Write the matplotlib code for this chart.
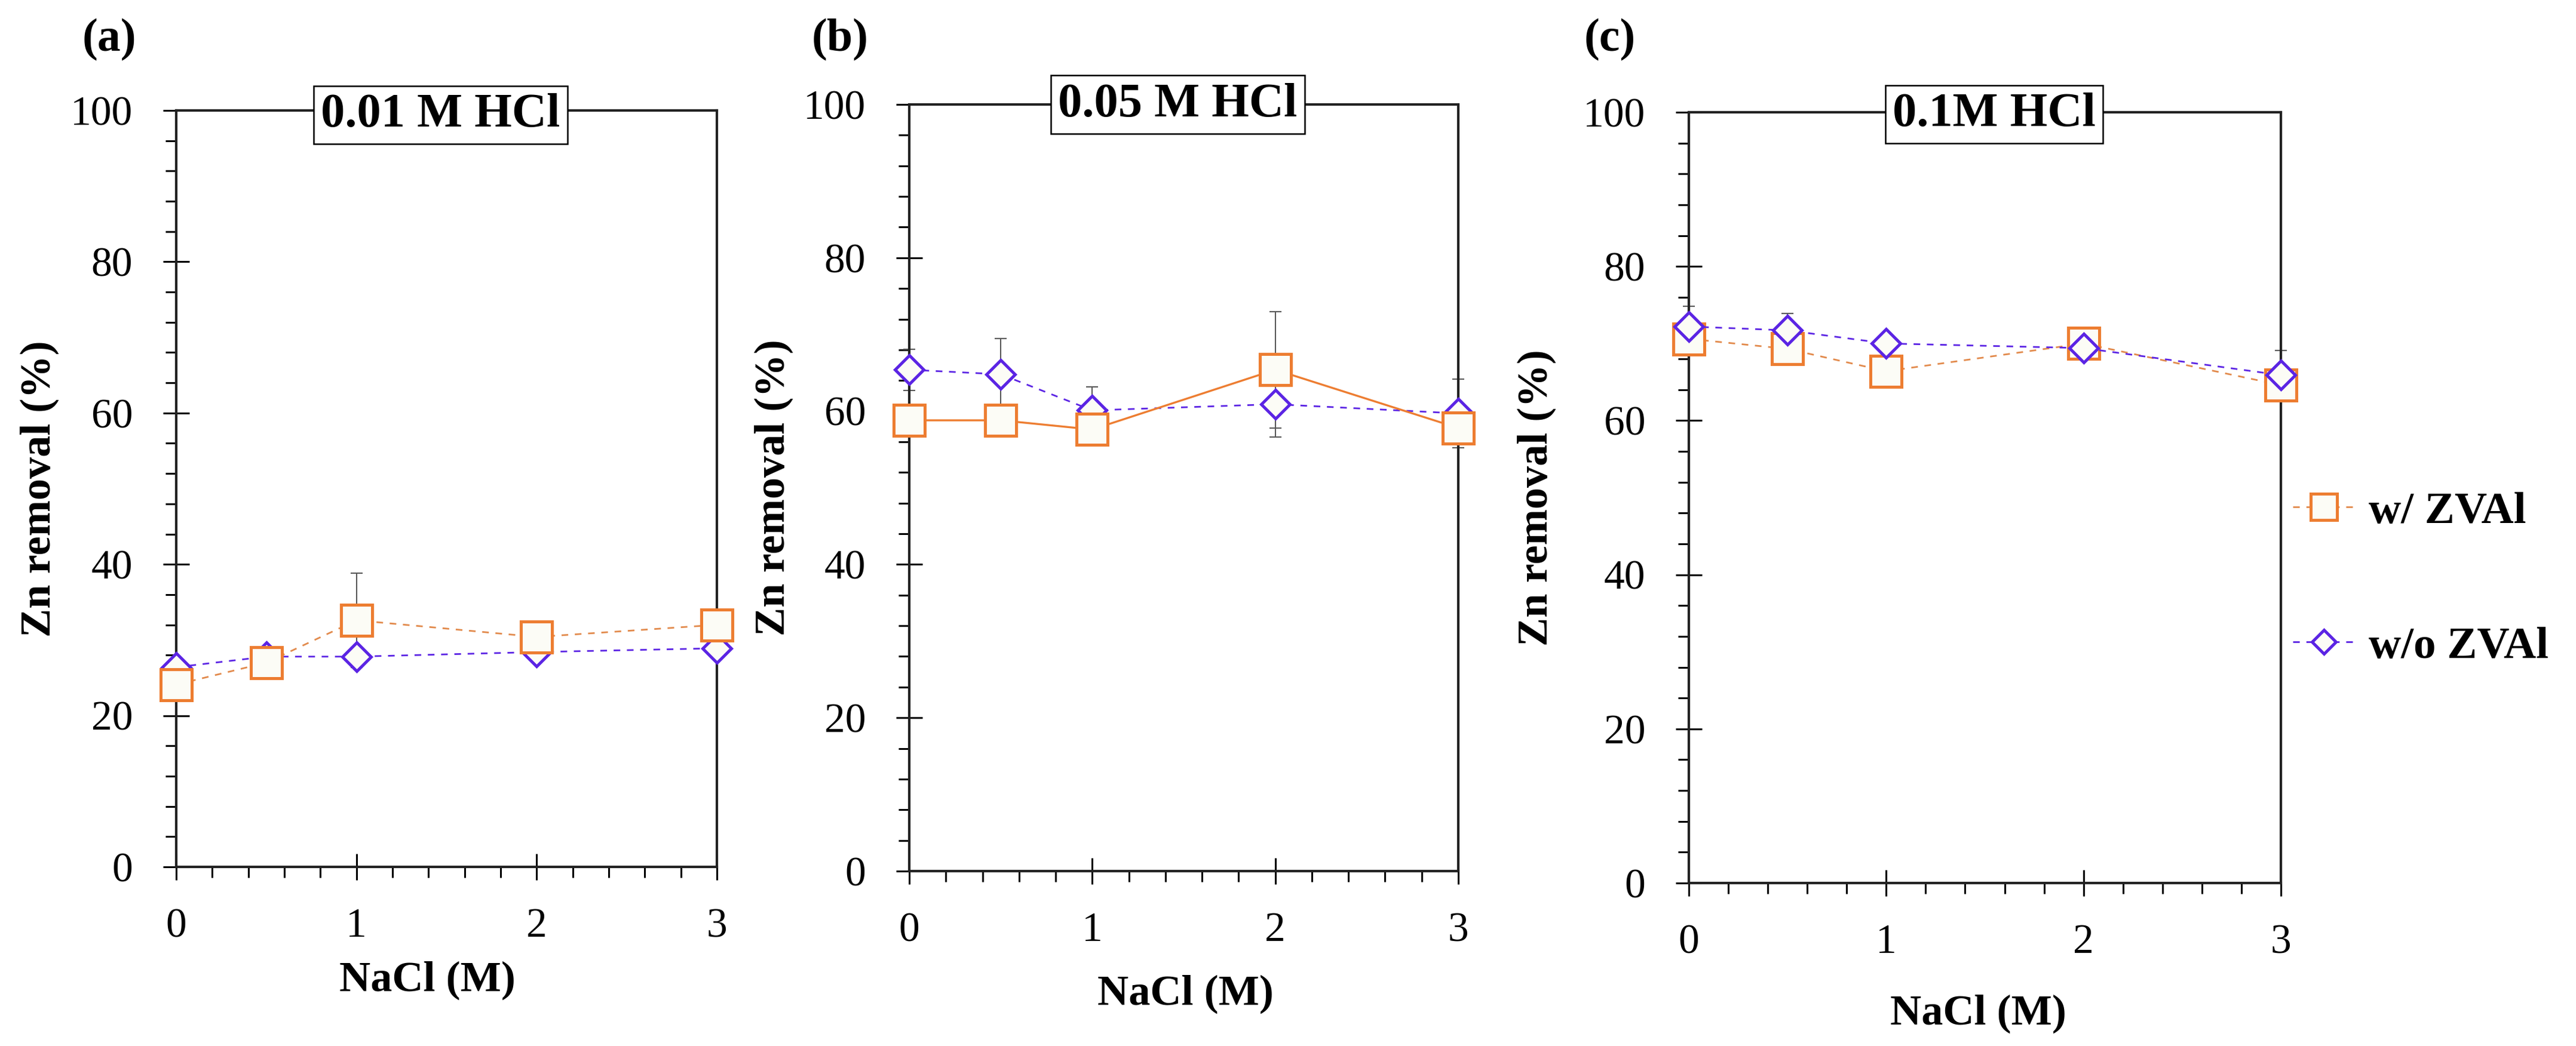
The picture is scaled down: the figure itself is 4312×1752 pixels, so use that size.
import numpy as np
import matplotlib
matplotlib.use('Agg')
import matplotlib.pyplot as plt
from matplotlib.ticker import MultipleLocator
from matplotlib.lines import Line2D

plt.rcParams['font.family'] = ['Liberation Serif', 'DejaVu Serif']

# ---- data ----
nacl = [0, 0.5, 1, 2, 3]

a_with = [24.1, 27.0, 32.6, 30.4, 32.0]
a_with_err = [0.0, 0.0, 6.2, 0.0, 0.0]
a_without = [26.4, 27.8, 27.8, 28.4, 28.9]
a_without_err = [0.0, 0.5, 0.0, 0.0, 0.0]

b_with = [58.8, 58.8, 57.6, 65.4, 57.8]
b_with_err = [0.0, 0.0, 0.0, 7.6, 0.0]
b_without = [65.4, 64.8, 60.1, 60.9, 59.7]
b_without_err = [2.7, 4.7, 3.1, 4.3, 4.5]

c_with = [70.6, 69.3, 66.4, 70.0, 64.6]
c_with_err = [0.8, 0.8, 0.8, 0.8, 0.8]
c_without = [72.2, 71.7, 70.0, 69.4, 65.9]
c_without_err = [2.6, 2.2, 1.0, 0.8, 3.2]

titles = ['0.01 M HCl', '0.05 M HCl', '0.1M HCl']
panel_tags = ['(a)', '(b)', '(c)']
series_labels = ['w/ ZVAl', 'w/o ZVAl']

ORANGE = '#ED7D31'
ORANGE_LINE = '#E28A4C'
PURPLE = '#5B24E4'
FILL = '#FCFCF6'
ERR = '#595959'

W, H = 4312, 1752
fig = plt.figure(figsize=(W / 100, H / 100), dpi=100)

# axes rectangles in pixels: left, right, bottom, top
rects = [(295, 1200, 1452, 185), (1522, 2441, 1459, 175), (2827, 3818, 1479, 188)]
title_pos = [(0.489, 0.994), (0.489, 1.0), (0.516, 0.997)]
# label centres in pixels
xlabel_px = [(715, 1642), (1984, 1665), (3311, 1698)]
ylabel_px = [66, 1295, 2572]
tag_x = [183, 1406, 2695]

panels = [
    (a_with, a_with_err, a_without, a_without_err, '--', False),
    (b_with, b_with_err, b_without, b_without_err, '-', False),
    (c_with, c_with_err, c_without, c_without_err, '--', True),
]

axes = []
for i, (l, r, b, t) in enumerate(rects):
    ax = fig.add_axes([l / W, (H - b) / H, (r - l) / W, (b - t) / H])
    axes.append(ax)
    yw, ew, yo, eo, wstyle, purple_top = panels[i]

    zo_w, zo_o = (4, 5) if purple_top else (5, 4)

    ax.errorbar(nacl, yw, yerr=ew, fmt='none', ecolor=ERR, elinewidth=1.5,
                capsize=7, capthick=1.5, zorder=2, clip_on=False)
    ax.errorbar(nacl, yo, yerr=eo, fmt='none', ecolor=ERR, elinewidth=1.5,
                capsize=7, capthick=1.5, zorder=2, clip_on=False)

    lw_w = 2.4 if wstyle == '-' else 2.0
    lc_w = ORANGE if wstyle == '-' else ORANGE_LINE
    ax.plot(nacl, yw, linestyle=wstyle, color=lc_w, lw=lw_w,
            dashes=(4, 4) if wstyle == '--' else (None, None),
            zorder=zo_w - 1, clip_on=False)
    ax.plot(nacl, yw, linestyle='none', marker='s', ms=38, mew=3.6,
            mec=ORANGE, mfc=FILL, zorder=zo_w, clip_on=False)
    ax.plot(nacl, yo, linestyle='--', color=PURPLE, lw=2.0, dashes=(4, 4),
            zorder=zo_o - 1, clip_on=False)
    ax.plot(nacl, yo, linestyle='none', marker='D', ms=24, mew=3.6,
            mec=PURPLE, mfc=FILL, zorder=zo_o, clip_on=False)

    ax.set_xlim(0, 3)
    ax.set_ylim(0, 100)
    ax.xaxis.set_major_locator(MultipleLocator(1))
    ax.xaxis.set_minor_locator(MultipleLocator(0.2))
    ax.yaxis.set_major_locator(MultipleLocator(20))
    ax.yaxis.set_minor_locator(MultipleLocator(4))
    ax.tick_params(which='major', direction='inout', length=31, width=2.2,
                   labelsize=50, top=False, right=False)
    ax.tick_params(axis='y', which='major', pad=37)
    ax.tick_params(axis='x', which='major', pad=34)
    ax.tick_params(which='minor', direction='out', length=13, width=2.2,
                   top=False, right=False)
    for sp in ax.spines.values():
        sp.set_linewidth(3)
        sp.set_color('#222222')

    ax.set_xlabel('NaCl (M)', fontsize=52, fontweight='bold', va='center')
    xl, yl = xlabel_px[i]
    ax.xaxis.set_label_coords((xl - l) / (r - l), -(yl - b) / (b - t))
    ax.set_ylabel('Zn removal (%)', fontsize=52, fontweight='bold', va='center')
    ax.yaxis.set_label_coords((ylabel_px[i] - l) / (r - l), 0.5)

    tx, ty = title_pos[i]
    ax.text(tx, ty, titles[i], transform=ax.transAxes, ha='center', va='center',
            fontsize=58, fontweight='bold', zorder=10,
            bbox=dict(boxstyle='square,pad=0.15', fc='white', ec='black', lw=1.8))

    fig.text(tag_x[i] / W, 1 - 67 / H, panel_tags[i], ha='center', va='center',
             fontsize=56, fontweight='bold')

# legend next to panel (c)
handles = [
    Line2D([], [], linestyle='--', dashes=(4, 4), color=ORANGE_LINE, lw=2.0,
           marker='s', ms=32, mew=3.6, mec=ORANGE, mfc=FILL),
    Line2D([], [], linestyle='--', dashes=(4, 4), color=PURPLE, lw=2.0,
           marker='D', ms=20, mew=3.6, mec=PURPLE, mfc=FILL),
]
axes[2].legend(handles, series_labels, loc='center left',
               bbox_to_anchor=(1.02, 0.394), frameon=False, numpoints=1,
               prop={'size': 54, 'weight': 'bold'}, handlelength=1.4,
               handletextpad=0.3, labelspacing=2.1, borderpad=0,
               borderaxespad=0)

fig.savefig('out.png', dpi=100, facecolor='white')
